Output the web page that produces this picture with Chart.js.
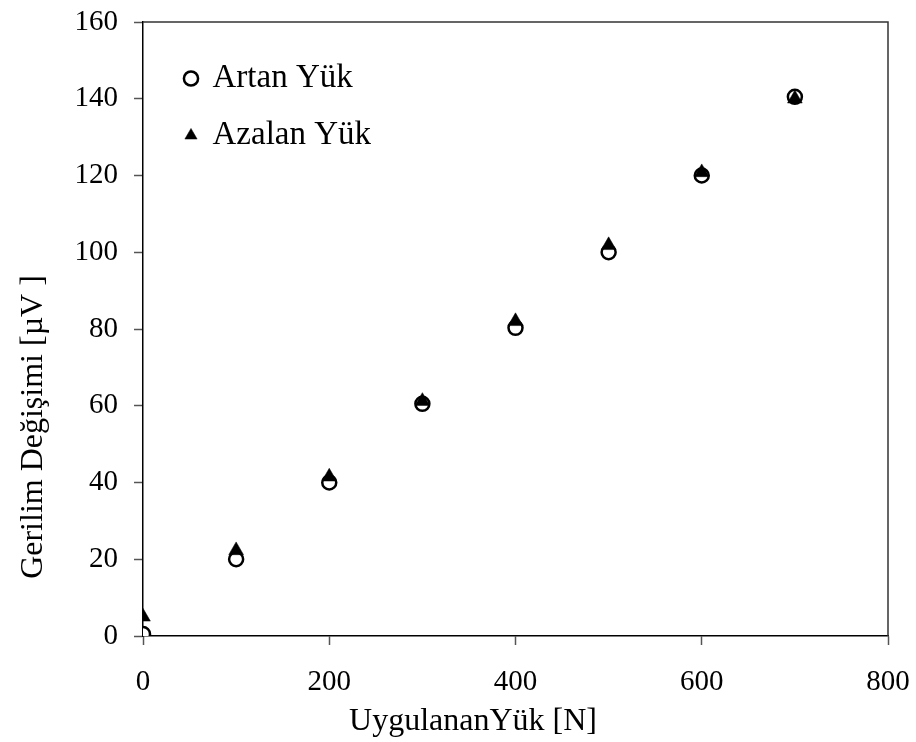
<!DOCTYPE html>
<html>
<head>
<meta charset="utf-8">
<script src="https://cdn.jsdelivr.net/npm/chart.js@4/dist/chart.umd.min.js"></script>
<style>
  html, body { margin: 0; padding: 0; background: #fff; }
  #wrap { width: 916px; height: 742px; }
</style>
</head>
<body>
<div id="wrap"><canvas id="yukChart" width="916" height="742"></canvas></div>
<script>
const yukler = [0, 100, 200, 300, 400, 500, 600, 700];
const artanYuk = [0.5, 20, 40, 60.5, 80.3, 100, 120, 140.5];
const azalanYuk = [5, 22.3, 41.5, 61.2, 82, 101.8, 120.8, 140];
const xTicks = [0, 200, 400, 600, 800];
const yTicks = [0, 20, 40, 60, 80, 100, 120, 140, 160];
const xBaslik = 'UygulananYük [N]';
const yBaslik = 'Gerilim Değişimi [µV ]';

const serif = 'Liberation Serif, Times New Roman, serif';

// ust ve sag cerceve, eksen basliklari
const cerceve = {
    id: 'cerceve',
    beforeDatasetsDraw(chart) {
        const a = chart.chartArea;
        const ctx = chart.ctx;
        ctx.save();
        ctx.strokeStyle = '#333';
        ctx.lineWidth = 1.5;
        ctx.beginPath();
        ctx.moveTo(a.left, a.top);
        ctx.lineTo(a.right, a.top);
        ctx.lineTo(a.right, a.bottom);
        ctx.stroke();
        ctx.restore();
    },
    afterDraw(chart) {
        const ctx = chart.ctx;
        ctx.save();
        ctx.fillStyle = '#000';
        ctx.textAlign = 'center';
        ctx.textBaseline = 'alphabetic';
        ctx.font = '32px ' + serif;
        ctx.fillText(xBaslik, 473, 730);
        ctx.translate(42, 427);
        ctx.rotate(-Math.PI / 2);
        ctx.font = '32px ' + serif;
        ctx.fillText(yBaslik, 0, 0);
        ctx.restore();
    },
    afterLayout(chart) {
        const lg = chart.legend;
        if (lg) {
            lg.left = chart.chartArea.left + 19;
            lg.top = chart.chartArea.top + 16;
        }
    }
};

function kenarSifirla(axis) {
    axis.paddingLeft = 0;
    axis.paddingRight = 0;
    axis.paddingTop = 0;
    axis.paddingBottom = 0;
}

const ctx = document.getElementById('yukChart').getContext('2d');

new Chart(ctx, {
    type: 'scatter',
    data: {
        datasets: [{
            label: 'Artan Yük',
            data: yukler.map((x, i) => ({ x: x, y: artanYuk[i] })),
            order: 1,
            pointStyle: 'circle',
            pointRadius: 7,
            borderWidth: 2.5,
            borderColor: '#000',
            backgroundColor: '#fff'
        }, {
            label: 'Azalan Yük',
            data: yukler.map((x, i) => ({ x: x, y: azalanYuk[i] })),
            order: 0,
            pointStyle: 'triangle',
            pointRadius: 8.5,
            borderWidth: 0.5,
            borderColor: '#000',
            backgroundColor: '#000'
        }]
    },
    options: {
        responsive: false,
        animation: false,
        layout: { padding: { top: 22, right: 28, left: 0, bottom: 0 } },
        plugins: {
            tooltip: { enabled: false },
            legend: {
                display: true,
                position: 'chartArea',
                align: 'start',
                labels: {
                    usePointStyle: true,
                    boxWidth: 10,
                    boxHeight: 10,
                    padding: 24,
                    color: '#000',
                    font: { family: serif, size: 33 },
                    sort: (a, b) => a.datasetIndex - b.datasetIndex
                }
            }
        },
        scales: {
            x: {
                type: 'linear',
                min: 0,
                max: 800,
                afterBuildTicks(axis) { axis.ticks = xTicks.map(v => ({ value: v })); },
                afterFit(axis) { axis.height = 106; kenarSifirla(axis); },
                grid: { drawOnChartArea: false, drawTicks: true, tickLength: 9, tickColor: '#555', tickWidth: 1.5 },
                border: { display: true, color: '#000', width: 1.5 },
                ticks: { color: '#000', padding: 20, maxRotation: 0, font: { family: serif, size: 29 } },
                title: { display: false }
            },
            y: {
                type: 'linear',
                min: 0,
                max: 160,
                afterBuildTicks(axis) { axis.ticks = yTicks.map(v => ({ value: v })); },
                afterFit(axis) { axis.width = 143; kenarSifirla(axis); },
                grid: { drawOnChartArea: false, drawTicks: true, tickLength: 9, tickColor: '#555', tickWidth: 1.5 },
                border: { display: true, color: '#000', width: 1.5 },
                ticks: { color: '#000', padding: 16, font: { family: serif, size: 29 } },
                title: { display: false }
            }
        }
    },
    plugins: [cerceve]
});
</script>
</body>
</html>
